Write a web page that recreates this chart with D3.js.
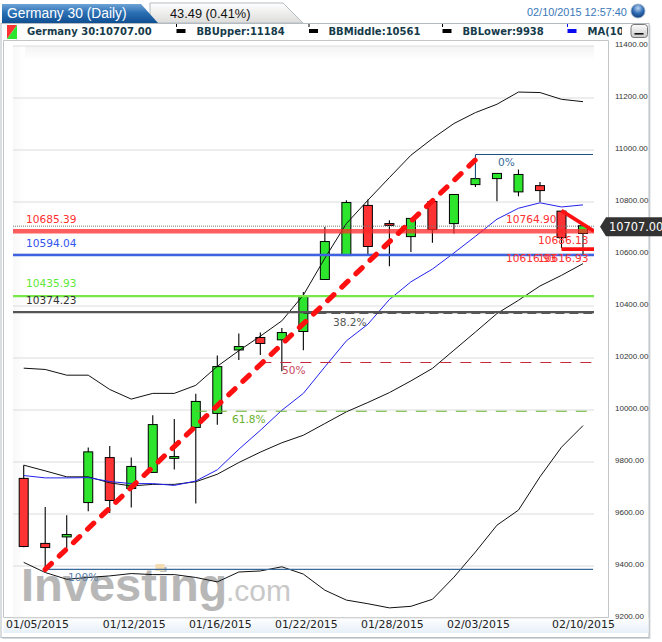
<!DOCTYPE html>
<html><head><meta charset="utf-8">
<script src="https://cdnjs.cloudflare.com/ajax/libs/d3/7.8.5/d3.min.js"></script>
<style>html,body{margin:0;padding:0;background:#fff;overflow:hidden}svg{display:block}</style>
</head><body><svg id="c" width="662" height="642"></svg>
<script>
const dates=["01/05/2015","01/06/2015","01/07/2015","01/08/2015","01/09/2015","01/12/2015","01/13/2015","01/14/2015","01/15/2015","01/16/2015","01/19/2015","01/20/2015","01/21/2015","01/22/2015","01/23/2015","01/26/2015","01/27/2015","01/28/2015","01/29/2015","01/30/2015","02/02/2015","02/03/2015","02/04/2015","02/05/2015","02/06/2015","02/09/2015","02/10/2015"];
const dateTicks=["01/05/2015","01/12/2015","01/16/2015","01/22/2015","01/28/2015","02/03/2015","02/10/2015"];
const priceTicks=[9200,9400,9600,9800,10000,10200,10400,10600,10800,11000,11200,11400];
const open =[9735,9485,9510,9642,9815,9696,9758,9812,9931,9985,10229,10277,10268,10300,10500,10592,10785,10715,10665,10800,10715,10865,10888,10837,10861,10763,10677];
const close=[9473,9469,9519,9837,9650,9781,9942,9819,10031,10165,10242,10254,10296,10435,10646,10796,10627,10708,10735,10692,10827,10888,10908,10904,10842,10661,10707];
const high =[9786,9625,9593,9854,9860,9815,9978,9963,10061,10208,10292,10296,10313,10452,10702,10805,10808,10728,10735,10800,10827,10888,10908,10923,10875,10763,10707];
const low  =[9470,9382,9467,9609,9602,9623,9758,9769,9638,9941,10190,10210,10147,10228,10500,10590,10592,10551,10606,10641,10677,10856,10801,10820,10798,10620,10593];
const bbUpper=[10159,10154,10132,10132,10077,10040,10062,10062,10093,10166,10226,10282,10341,10440,10582,10715,10805,10892,10978,11042,11100,11142,11174,11221,11219,11193,11184];
const bbMiddle=[9786,9764,9741,9741,9718,9706,9712,9712,9722,9751,9796,9836,9872,9901,9946,9991,10027,10065,10110,10158,10228,10298,10369,10420,10475,10516,10561];
const bbLower=[9412,9373,9347,9354,9360,9369,9365,9365,9354,9337,9375,9379,9395,9367,9305,9267,9253,9237,9243,9270,9355,9452,9555,9613,9741,9855,9938];
const ma=[9746,9737,9737,9738,9723,9715,9715,9708,9725,9768,9847,9920,9997,10062,10164,10264,10328,10423,10491,10540,10602,10666,10732,10774,10795,10779,10787];
const levelValues=[10685.39,10594.04,10435.93,10374.23];
const levelColors=["rgba(255,40,40,.75)","#3f63e0","#76e848","#555"];
const levelWidths=[4.5,2.4,2.2,2.2];
const levelLabelColors=["#ff3030","#3355ee","#5fe83a","#333"];
const levelLabelDy=[-8.5,-8,-9.5,-8.5];
const fibValues=[10981,10370,10181,9993,9385];
const fibNames=["0%","38.2%","50%","61.8%","100%"];
const fibFrom=["02/03/2015","01/22/2015","01/20/2015","01/15/2015","01/06/2015"];
const fibColors=["#1d4f82","#222","#c8283c","#6ab12e","#3a6a9a"];
const fibDash=[null,"9 5","11 9","11 9",null];
const fibLabelColors=["#3a6a9a","#555","#c8485c","#6ab12e","#5b82ac"];
const fibLabelX=[498,333,282,232,68];
const fibLabelDy=[12,12.5,12,12,12];
const trendFrom=["01/06/2015",9385], trendTo=["02/03/2015",10960];
const penTop=[10764.90,10686.13], penBottom=[10616.93,10616.93];
const penLabels=[["10764.90",506,10764.90,12],["10686.13",538,10686.13,13],["10616.93",506,10616.93,12.5],["10616.93",538,10616.93,12.5]];
const lastPrice=10707;

const svg=d3.select("#c");
const x=d3.scalePoint().domain(dates).range([23.7,583]);
const y=d3.scaleLinear().domain([9200,11400]).range([617.5,45.5]);
const defs=svg.append("defs");
function lg(id,x2,y2,stops){const g=defs.append("linearGradient").attr("id",id).attr("x1",0).attr("y1",0).attr("x2",x2).attr("y2",y2);
  stops.forEach(s=>g.append("stop").attr("offset",s[0]).attr("stop-color",s[1]));}
lg("tabB",0,1,[[0,"#6fa3d6"],[.45,"#2c70b4"],[1,"#0f4f92"]]);
lg("tabG",0,1,[[0,"#ffffff"],[1,"#dcdcda"]]);
lg("strip",0,1,[[0,"#ffffff"],[1,"#e6eff8"]]);
lg("topS",0,1,[[0,"#f3f3f3"],[1,"#ffffff"]]);
lg("leftS",1,0,[[0,"#f8f8f8"],[1,"#ffffff"]]);
lg("btn",0,1,[[0,"#fdfdfd"],[1,"#c9c9c9"]]);
const rg=defs.append("radialGradient").attr("id","ball").attr("cx",.5).attr("cy",.3).attr("r",.7);
rg.append("stop").attr("offset",0).attr("stop-color","#bcd6f2");
rg.append("stop").attr("offset",.55).attr("stop-color","#2f6cb4");
rg.append("stop").attr("offset",1).attr("stop-color","#123f7a");
defs.append("clipPath").attr("id","plot").append("rect").attr("x",13).attr("y",40).attr("width",581).attr("height",578);
defs.append("clipPath").attr("id","lg").append("rect").attr("x",0).attr("y",22).attr("width",622).attr("height",18);

const F="'DejaVu Sans',sans-serif", A="'Liberation Sans',Arial,sans-serif";
// frame
svg.append("rect").attr("x",2.5).attr("y",25).attr("width",648).attr("height",614).attr("fill","#d8dbde");
svg.append("rect").attr("x",1).attr("y",23.5).attr("width",648).attr("height",614).attr("fill","#fff").attr("stroke","#b4bcc2");
svg.append("rect").attr("x",3.5).attr("y",618).attr("width",645).attr("height",15).attr("fill","url(#strip)");
svg.append("rect").attr("x",13).attr("y",46).attr("width",581).attr("height",14).attr("fill","url(#topS)");
svg.append("rect").attr("x",13).attr("y",46).attr("width",12).attr("height",571).attr("fill","url(#leftS)");
svg.append("path").attr("d","M3.5 40.5H608.5V617.5H3.5Z").attr("fill","none").attr("stroke","#c2c6c9");
// tabs
svg.append("path").attr("d","M150 23V3H283L303 23Z").attr("fill","url(#tabG)").attr("stroke","#b4bcc2");
svg.append("path").attr("d","M2 23V4H141L158 23Z").attr("fill","url(#tabB)");
svg.append("text").attr("x",7).attr("y",17.5).attr("fill","#fff").attr("font-family",A).attr("font-size",13.8).text("Germany 30 (Daily)");
svg.append("text").attr("x",170).attr("y",17.5).attr("fill","#111").attr("font-family",A).attr("font-size",12.8).text("43.49 (0.41%)");
svg.append("text").attr("x",527).attr("y",16).attr("fill","#3a78b8").attr("font-family",A).attr("font-size",10.9).text("02/10/2015 12:57:40");
svg.append("circle").attr("cx",638).attr("cy",11).attr("r",7).attr("fill","url(#ball)").attr("stroke","#9fb2c8").attr("stroke-width",.8);
// legend
svg.append("path").attr("d","M7 25H17L7 39Z").attr("fill","#ff3333");
svg.append("path").attr("d","M17 25V39H7Z").attr("fill","#2de52d");
const legendG=svg.append("g").attr("clip-path","url(#lg)");
const legendNames=["Germany 30:10707.00","BBUpper:11184","BBMiddle:10561","BBLower:9938","MA(10"];
const legendX=[27,196.5,328.5,462.5,587.5];
const legendSwatchX=[null,176.5,309,442.5,567.5];
const legendSwatch=[null,"#000","#000","#000","#0a0aee"];
legendNames.forEach((t,i)=>{
  legendG.append("text").attr("x",legendX[i]).attr("y",35).attr("fill","#163b4a").attr("font-family",F).attr("font-weight","bold").attr("font-size",10).text(t);
  if(legendSwatchX[i]!=null){
    legendG.append("rect").attr("x",legendSwatchX[i]).attr("y",29).attr("width",9).attr("height",4).attr("fill",legendSwatch[i]);
    legendG.append("rect").attr("x",legendSwatchX[i]-.5).attr("y",24).attr("width",1).attr("height",3).attr("fill",legendSwatch[i]);
  }
});
svg.append("rect").attr("x",631).attr("y",24.5).attr("width",16.5).attr("height",13).attr("rx",3).attr("fill","url(#btn)").attr("stroke","#777");
svg.append("rect").attr("x",634.5).attr("y",33).attr("width",9).attr("height",1.6).attr("fill","#111");

// grid and axes
const grid=d3.axisRight(y).tickValues(priceTicks).tickSize(581).tickFormat("");
const gg=svg.append("g").attr("transform","translate(13,0)").call(grid);
gg.select(".domain").remove();
gg.selectAll("line").attr("stroke","#dcdcdc");
const ya=d3.axisRight(y).tickValues(priceTicks).tickSize(0).tickPadding(0).tickFormat(d3.format(".2f"));
const yg=svg.append("g").attr("transform","translate(615,-2)").call(ya);
yg.select(".domain").remove();
yg.selectAll("text").attr("font-family",A).attr("font-size",8).attr("fill","#333");
const xa=d3.axisBottom(x).tickValues(dateTicks).tickSize(0).tickPadding(0);
const xg=svg.append("g").attr("transform","translate(0,620.5)").call(xa);
xg.select(".domain").remove();
xg.selectAll("text").attr("font-family",F).attr("font-size",10.9).attr("fill","#222")
  .attr("dx",d=>d===dateTicks[0]?13.3:(d===dateTicks[dateTicks.length-1]?0:2.5));

const plot=svg.append("g").attr("clip-path","url(#plot)");
// candles
const cd=plot.append("g").selectAll("g").data(dates).join("g");
cd.append("line").attr("x1",d=>x(d)).attr("x2",d=>x(d)).attr("y1",(d,i)=>y(high[i])).attr("y2",(d,i)=>y(low[i])).attr("stroke","#000").attr("stroke-width",1.1);
cd.append("rect").attr("x",d=>x(d)-4.5).attr("width",9)
  .attr("y",(d,i)=>y(Math.max(open[i],close[i])))
  .attr("height",(d,i)=>Math.abs(y(open[i])-y(close[i])))
  .attr("fill",(d,i)=>close[i]>=open[i]?"#2de52d":"#ff3333").attr("stroke","#000").attr("stroke-width",1);
// watermark
const wm=plot.append("g").attr("opacity",.95);
wm.append("text").attr("x",21).attr("y",600.5).attr("font-family",A).attr("font-weight","bold").attr("font-size",47).attr("fill","#b4b4b4").text("Investing");
wm.append("text").attr("x",226).attr("y",600.5).attr("font-family",A).attr("font-size",30).attr("fill","#c6c6c6").text(".com");
wm.append("rect").attr("x",155.5).attr("y",564).attr("width",9).attr("height",7).attr("fill","#f6dcae");
// indicator lines
const ln=d3.line().x((d,i)=>x(dates[i])).y(d=>y(d));
[[bbUpper,"#111"],[bbMiddle,"#111"],[bbLower,"#111"],[ma,"#2222ee"]].forEach(s=>{
  plot.append("path").attr("d",ln(s[0])).attr("fill","none").attr("stroke",s[1]).attr("stroke-width",1);
});
// last price dotted line
plot.append("line").attr("x1",13).attr("x2",594).attr("y1",y(lastPrice)+.5).attr("y2",y(lastPrice)+.5).attr("stroke","#777").attr("stroke-dasharray","1 1");
// fib lines
fibValues.forEach((v,i)=>{
  const l=plot.append("line").attr("x1",x(fibFrom[i])).attr("x2",593).attr("y1",y(v)).attr("y2",y(v)).attr("stroke",fibColors[i]).attr("stroke-width",1.1);
  if(fibDash[i])l.attr("stroke-dasharray",fibDash[i]);
  plot.append("text").attr("x",fibLabelX[i]).attr("y",y(v)+fibLabelDy[i]).attr("fill",fibLabelColors[i]).attr("font-family",F).attr("font-size",10.6).text(fibNames[i]);
});
plot.append("line").attr("x1",x("02/03/2015")).attr("x2",x("02/03/2015")).attr("y1",y(fibValues[0])).attr("y2",y(high[21])).attr("stroke",fibColors[0]).attr("stroke-width",1.1);
// level lines
levelValues.forEach((v,i)=>{
  plot.append("line").attr("x1",13).attr("x2",594).attr("y1",y(v)).attr("y2",y(v)).attr("stroke",levelColors[i]).attr("stroke-width",levelWidths[i]);
  plot.append("text").attr("x",26).attr("y",y(v)+levelLabelDy[i]).attr("fill",levelLabelColors[i]).attr("font-family",F).attr("font-size",10.6).text(v.toFixed(2));
});
// trend + pen
plot.append("line").attr("x1",x(trendFrom[0])).attr("y1",y(trendFrom[1])).attr("x2",x(trendTo[0])).attr("y2",y(trendTo[1]))
  .attr("stroke","#ff1010").attr("stroke-width",5.2).attr("stroke-linecap","round").attr("stroke-dasharray","8.5 11");
const penX=["02/09/2015",594];
[penTop,penBottom].forEach(p=>{
  plot.append("line").attr("x1",x(penX[0])).attr("x2",penX[1]).attr("y1",y(p[0])).attr("y2",y(p[1])).attr("stroke","#ff1010").attr("stroke-width",3.6);
});
penLabels.forEach(p=>{
  plot.append("text").attr("x",p[1]).attr("y",y(p[2])+p[3]).attr("fill","#ff3030").attr("font-family",F).attr("font-size",10.6).text(p[0]);
});
// price tag
const ty=y(lastPrice)+1;
svg.append("path").attr("d",`M600 ${ty}L606 ${ty-9.5}H662V${ty+9.5}H606Z`).attr("fill","#333");
svg.append("text").attr("x",609).attr("y",ty+4.3).attr("fill","#fff").attr("font-family",F).attr("font-size",11.4).text(d3.format(".2f")(lastPrice));
</script></body></html>
